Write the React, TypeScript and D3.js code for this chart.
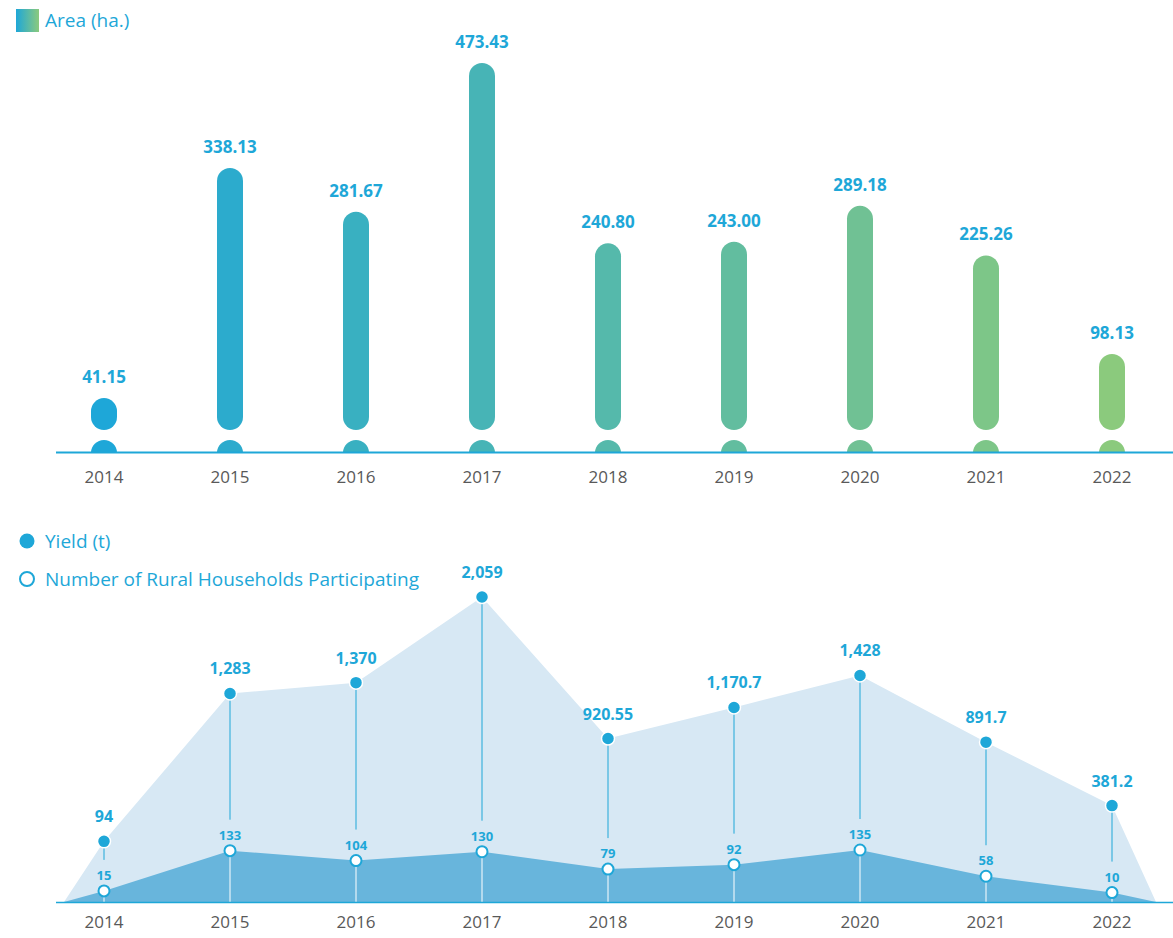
import React from 'react';
import * as d3 from 'd3';

const years = ['2014', '2015', '2016', '2017', '2018', '2019', '2020', '2021', '2022'];
const areaHa = [41.15, 338.13, 281.67, 473.43, 240.8, 243.0, 289.18, 225.26, 98.13];
const areaLabels = ['41.15', '338.13', '281.67', '473.43', '240.80', '243.00', '289.18', '225.26', '98.13'];
const yieldT = [94, 1283, 1370, 2059, 920.55, 1170.7, 1428, 891.7, 381.2];
const yieldLabels = ['94', '1,283', '1,370', '2,059', '920.55', '1,170.7', '1,428', '891.7', '381.2'];
const households = [15, 133, 104, 130, 79, 92, 135, 58, 10];

const W = 1173;
const H = 938;
const BLUE = '#1ea7d8';
const FONT = '"Open Sans", "Noto Sans", sans-serif';

export default function App() {
  const x = d3.scalePoint<string>().domain(years).range([104, 1112]);

  // top chart
  const base1 = 452;
  const barW = 26;
  const yArea = d3.scaleLinear().domain([0, 473.43]).range([430, 63]);
  const color = d3.scaleLinear<string>().domain([0, years.length - 1]).range(['#1ea7d8', '#8bca7d']).interpolate(d3.interpolateRgb);

  // bottom chart
  const base2 = 902;
  const yYield = d3.scaleLinear().domain([0, 2059]).range([853, 597]);
  const yHh = d3.scaleLinear().domain([0, 135]).range([896, 850]);

  const xStart = 64;
  const xEnd = 1156;
  const area = (vals: number[], ys: d3.ScaleLinear<number, number>) => {
    const pts: [number, number][] = [[xStart, base2]];
    vals.forEach((v, i) => pts.push([x(years[i])!, ys(v)]));
    pts.push([xEnd, base2]);
    return d3.line()(pts) + 'Z';
  };

  return (
    <svg width={W} height={H} style={{ position: 'absolute', left: 0, top: 0 }} fontFamily={FONT}>
      <defs>
        <linearGradient id="legGrad" x1="0" x2="1" y1="0" y2="0">
          <stop offset="0" stopColor="#1ea7d8" />
          <stop offset="1" stopColor="#8bca7d" />
        </linearGradient>
        <clipPath id="aboveBase">
          <rect x={0} y={0} width={W} height={base1} />
        </clipPath>
      </defs>

      {/* legend top */}
      <rect x={16} y={9} width={23} height={23} fill="url(#legGrad)" />
      <text x={45} y={27} fontSize={19} fill={BLUE}>Area (ha.)</text>

      {/* bars */}
      <g>
        {years.map((yr, i) => {
          const cx = x(yr)!;
          const top = yArea(areaHa[i]);
          return (
            <g key={yr}>
              <rect x={cx - barW / 2} y={top} width={barW} height={yArea(0) - top} rx={barW / 2} ry={barW / 2} fill={color(i)} />
              <circle cx={cx} cy={base1 + 1} r={barW / 2} fill={color(i)} clipPath="url(#aboveBase)" />
              <text x={cx} y={top - 15} textAnchor="middle" fontSize={17} fontWeight="bold" fill={BLUE}>{areaLabels[i]}</text>
              <text x={cx} y={483} textAnchor="middle" fontSize={17} fill="#595959">{yr}</text>
            </g>
          );
        })}
      </g>
      <line x1={56} x2={W} y1={base1 + 0.5} y2={base1 + 0.5} stroke={BLUE} strokeWidth={2} />

      {/* legend bottom */}
      <circle cx={27} cy={541} r={7.5} fill={BLUE} />
      <text x={45} y={548} fontSize={19} fill={BLUE}>Yield (t)</text>
      <circle cx={27} cy={579} r={7} fill="#fff" stroke={BLUE} strokeWidth={2} />
      <text x={45} y={586} fontSize={19} fill={BLUE}>Number of Rural Households Participating</text>

      {/* areas */}
      <path d={area(yieldT, yYield)} fill="#d7e8f4" />
      <path d={area(households, yHh)} fill="#68b5dc" />

      {years.map((yr, i) => {
        const cx = x(yr)!;
        const py = yYield(yieldT[i]);
        const hy = yHh(households[i]);
        return (
          <g key={yr}>
            <line x1={cx} x2={cx} y1={py} y2={hy - 31} stroke={BLUE} strokeWidth={1} />
            <line x1={cx} x2={cx} y1={hy} y2={base2} stroke="#fff" strokeWidth={1} />
          </g>
        );
      })}

      <line x1={56} x2={W} y1={base2 + 0.5} y2={base2 + 0.5} stroke={BLUE} strokeWidth={1.5} />

      {years.map((yr, i) => {
        const cx = x(yr)!;
        const py = yYield(yieldT[i]);
        const hy = yHh(households[i]);
        return (
          <g key={yr}>
            <circle cx={cx} cy={py} r={6.5} fill={BLUE} stroke="#fff" strokeWidth={1.5} />
            <circle cx={cx} cy={hy} r={5.5} fill="#fff" stroke={BLUE} strokeWidth={2} />
            <text x={cx} y={py - 19} textAnchor="middle" fontSize={16} fontWeight="bold" fill={BLUE}>{yieldLabels[i]}</text>
            <text x={cx} y={hy - 11} textAnchor="middle" fontSize={13} fontWeight="bold" fill={BLUE}>{households[i]}</text>
            <text x={cx} y={928} textAnchor="middle" fontSize={17} fill="#595959">{yr}</text>
          </g>
        );
      })}
    </svg>
  );
}
